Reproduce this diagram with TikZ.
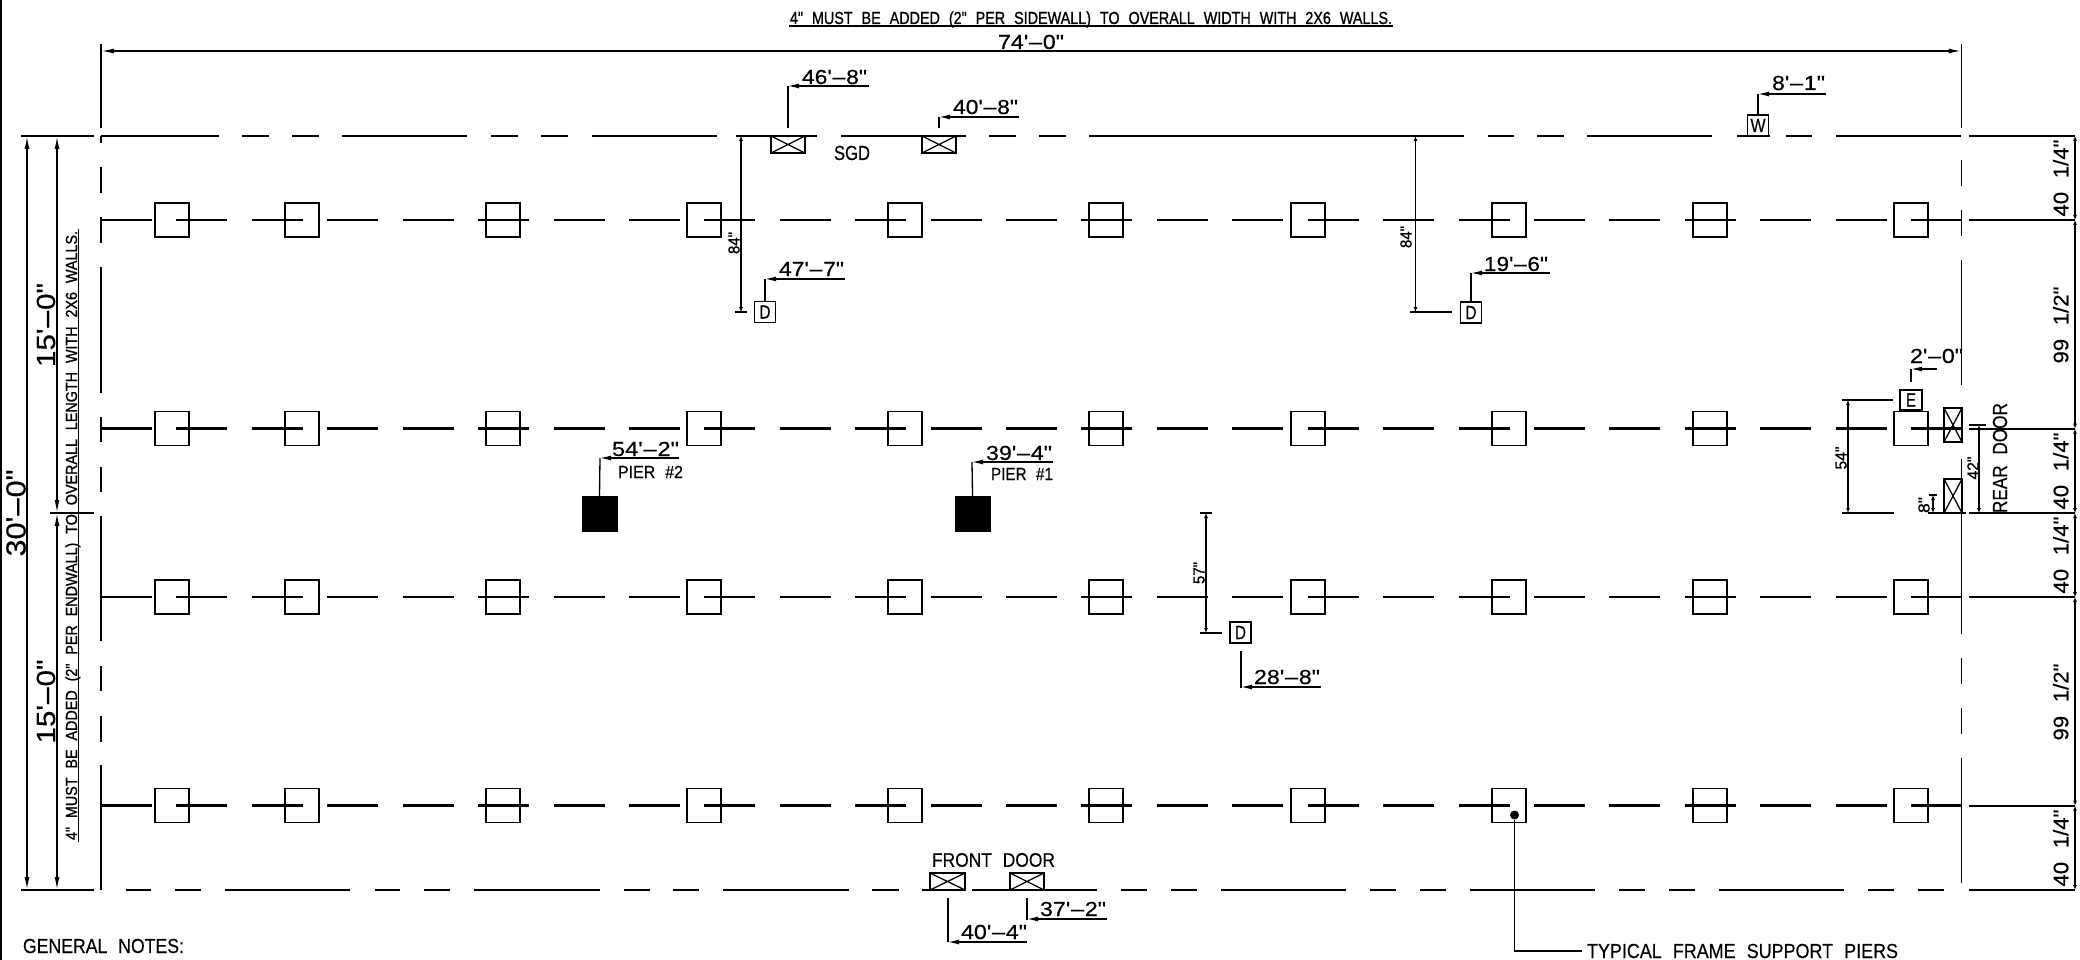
\documentclass[tikz,border=0pt]{standalone}
\usepackage{graphicx}
\usepackage{fontspec}
\usetikzlibrary{arrows.meta}
\newfontfamily\cad[FakeBold=0.35]{Liberation Sans}
\newfontfamily\cadb[FakeBold=1.1]{Liberation Sans}
% long drafting dash, narrow quotes kept as typed
\newcommand\dd{\kern-.07em\scalebox{2.3}[1]{-}\kern-.07em}
% fit text to a width and a capital height, both in px (pt)
\newcommand\fit[3]{\resizebox{#1pt}{#2pt}{\cad\spaceskip=.62em\relax\smash{#3}\vphantom{H}}}
\newcommand\fitb[3]{\resizebox{#1pt}{#2pt}{\cadb\spaceskip=.62em\relax\smash{#3}\vphantom{H}}}
\tikzset{
  thinline/.style={line width=1.3pt,black},
  wall/.style={line width=1.6pt,black},
  rowline/.style={line width=2.8pt,black,dash pattern=on 51pt off 24.42pt},
  pier/.style={draw,line width=1.5pt,minimum width=34pt,minimum height=34pt,inner sep=0pt,outer sep=0pt},
  blackpier/.style={fill=black,draw=black,minimum width=35pt,minimum height=35pt,inner sep=0pt,outer sep=0pt},
  dbox/.style={draw,line width=1.5pt,minimum width=21pt,minimum height=21pt,inner sep=0pt,outer sep=0pt},
  lbl/.style={inner sep=0pt,outer sep=0pt},
  dim/.style={line width=1.5pt,-{Latex[length=13pt,width=5pt]}},
  ddim/.style={line width=1.5pt,{Latex[length=13pt,width=5pt]}-{Latex[length=13pt,width=5pt]}},
  tick/.style={line width=1.3pt,{Latex[length=5pt,width=4pt]}-{Latex[length=5pt,width=4pt]}},
  lead/.style={line width=1.3pt,-{Latex[length=11pt,width=5pt]}}
}
\begin{document}
\begin{tikzpicture}[x=1pt,y=-1pt]
\useasboundingbox (0,0) rectangle (2080,960);
\fill[white] (0,0) rectangle (2080,960);
% sheet border
\draw[line width=2pt] (1,0) -- (1,960);
% rows of frame and piers
\foreach \r/\y in {1/220,2/428.7,3/597,4/805.7}{
  \foreach \c/\x in {1/172,2/302,3/503,4/704,5/905,6/1106,7/1308,8/1509,9/1710,10/1911}{
    \node[pier] (p\r-\c) at (\x,\y) {};
  }
  \draw[rowline] (101,\y) -- (1961.2,\y);
  \draw[wall] (1968.5,\y) -- (2075,\y);
}
% top wall
\foreach \a/\b in {21/94,101/219,242/269,292/319,342/467,491/518,541/568,591.5/717,736/817,841/966,989/1016,1039/1066,1089/1464,1488/1514,1537/1564,1587/1712,1737/1770,1786/1812,1836/1961,1968.5/2075}{
  \draw[wall] (\a,136) -- (\b,136);
}
% bottom wall
\foreach \a/\b in {21/94,126/151,175/201,225/350,375/400,424/450,474/600,624/650,673/699,723/849,872/899,922/948,972/1097,1121/1147,1171/1197,1221/1346,1370/1396,1420/1446,1470/1595,1619/1645,1669/1695,1719/1844,1868/1894,1918/1944,1968.5/2075}{
  \draw[wall] (\a,890) -- (\b,890);
}
% mid line stubs
\draw[wall] (50,513) -- (94,513);
\draw[wall] (1968.5,513) -- (2075,513);
% left wall
\foreach \a/\b in {44/128,136/143,167/193,217/243,267/393,417/442,467/492,516/641,666/691,716/742,765/890}{
  \draw[wall] (101,\a) -- (101,\b);
}
% right wall
\foreach \a/\b in {44/128,160/186,210/236,260/385,408/442,459/634,658/684,708/734,758/883}{
  \draw[wall] (1961.5,\a) -- (1961.5,\b);
}
% overall dimensions
\coordinate (tl) at (101,51); \coordinate (tr) at (1961.5,51);
\draw[ddim] (tl) -- (tr);
\node[lbl] (w74) at (1031,42) {\fit{66}{14}{74'\dd 0"}};
\node[lbl] (note1) at (1091,18) {\fitb{602}{12}{4" MUST BE ADDED (2" PER SIDEWALL) TO OVERALL WIDTH WITH 2X6 WALLS.}};
\draw[thinline] (789,26) -- (1393,26);
\coordinate (a1) at (27,136); \coordinate (a2) at (27,890);
\draw[ddim] (a1) -- (a2);
\coordinate (b1) at (57,136); \coordinate (b2) at (57,513); \coordinate (b3) at (57,890);
\draw[ddim] (b1) -- (b2); \draw[ddim] (b2) -- (b3);
\node[lbl,rotate=90] (h30) at (16,513) {\fit{87}{19}{30'\dd 0"}};
\node[lbl,rotate=90] (h15a) at (46,325) {\fit{84}{18}{15'\dd 0"}};
\node[lbl,rotate=90] (h15b) at (46,701.5) {\fit{84}{18}{15'\dd 0"}};
\node[lbl,rotate=90] (note2) at (71.5,535.5) {\fitb{609}{11}{4" MUST BE ADDED (2" PER ENDWALL) TO OVERALL LENGTH WITH 2X6 WALLS.}};
\draw[thinline] (78.5,229) -- (78.5,842);
% right-hand dimensions
\coordinate (r0) at (2075,136); \coordinate (r1) at (2075,220); \coordinate (r2) at (2075,428.7);
\coordinate (r3) at (2075,513); \coordinate (r4) at (2075,597); \coordinate (r5) at (2075,805.7); \coordinate (r6) at (2075,890);
\draw[tick] (r0) -- (r1); \draw[tick] (r1) -- (r2); \draw[tick] (r2) -- (r3);
\draw[tick] (r3) -- (r4); \draw[tick] (r4) -- (r5); \draw[tick] (r5) -- (r6);
\node[lbl,rotate=90] (rda) at (2061,178) {\fit{77}{14.5}{40 1/4"}};
\node[lbl,rotate=90] (rdb) at (2061,325) {\fit{77}{14.5}{99 1/2"}};
\node[lbl,rotate=90] (rdc) at (2061,471) {\fit{77}{14.5}{40 1/4"}};
\node[lbl,rotate=90] (rdd) at (2061,555) {\fit{77}{14.5}{40 1/4"}};
\node[lbl,rotate=90] (rde) at (2061,702) {\fit{77}{14.5}{99 1/2"}};
\node[lbl,rotate=90] (rdf) at (2061,848) {\fit{77}{14.5}{40 1/4"}};
% side door, top wall
\node[dbox,minimum width=34pt,minimum height=17pt] (sg1) at (788,144.5) {};
\draw[thinline] (sg1.north west) -- (sg1.south east) (sg1.north east) -- (sg1.south west);
\node[dbox,minimum width=34pt,minimum height=17pt] (sg2) at (939,144.5) {};
\draw[thinline] (sg2.north west) -- (sg2.south east) (sg2.north east) -- (sg2.south west);
\node[lbl] (sgd) at (852,153) {\fit{36}{14}{SGD}};
\coordinate (d1a) at (788,128); \coordinate (d1b) at (788,86); \coordinate (d1c) at (869,86);
\draw[thinline] (d1a) -- (d1b); \draw[lead] (d1c) -- (d1b);
\node[lbl] (t468) at (834.5,77) {\fit{65}{14}{46'\dd 8"}};
\coordinate (d2a) at (939,128); \coordinate (d2b) at (939,117); \coordinate (d2c) at (1019,117);
\draw[thinline] (d2a) -- (d2b); \draw[lead] (d2c) -- (d2b);
\node[lbl] (t408) at (985.5,107) {\fit{65}{14}{40'\dd 8"}};
% D boxes
\node[dbox] (D1) at (765,312) {\fit{11}{13}{D}};
\node[dbox] (D2) at (1471,312.5) {\fit{11}{13}{D}};
\node[dbox] (D3) at (1240.5,632.5) {\fit{11}{13}{D}};
\coordinate (e1a) at (765,279); \coordinate (e1b) at (845,279);
\draw[thinline] (D1.north) -- (e1a); \draw[lead] (e1b) -- (e1a);
\node[lbl] (t477) at (811.5,269) {\fit{65}{14}{47'\dd 7"}};
\coordinate (e2a) at (1471,273); \coordinate (e2b) at (1550,273);
\draw[thinline] (D2.north) -- (e2a); \draw[lead] (e2b) -- (e2a);
\node[lbl] (t196) at (1516,264) {\fit{64}{14}{19'\dd 6"}};
\coordinate (e3a) at (1241,651); \coordinate (e3b) at (1241,688); \coordinate (e3c) at (1321,687);
\draw[thinline] (e3a) -- (e3b); \draw[lead] (e3c) -- (1241,687);
\node[lbl] (t288) at (1287,677) {\fit{66}{14}{28'\dd 8"}};
% 84 inch, 57 inch
\coordinate (f1a) at (741,136); \coordinate (f1b) at (741,312);
\draw[tick] (f1a) -- (f1b); \draw[thinline] (735,312) -- (747,312);
\node[lbl,rotate=90] (t84a) at (734,243) {\fitb{22}{11}{84"}};
\coordinate (f2a) at (1415.5,136); \coordinate (f2b) at (1415.5,312);
\draw[tick] (f2a) -- (f2b); \draw[thinline] (1410,312) -- (1452,312);
\node[lbl,rotate=90] (t84b) at (1406,237) {\fitb{22}{11}{84"}};
\coordinate (f3a) at (1206,513); \coordinate (f3b) at (1206,633);
\draw[tick] (f3a) -- (f3b); \draw[thinline] (1200,513) -- (1212,513) (1200,633) -- (1222,633);
\node[lbl,rotate=90] (t57) at (1199,573) {\fitb{22}{11}{57"}};
% black piers
\node[blackpier] (P1) at (972.5,513.5) {};
\node[blackpier] (P2) at (599.5,513.5) {};
\coordinate (g1a) at (972,462); \coordinate (g1b) at (1053,462);
\draw[thinline] (P1.north) -- (g1a); \draw[lead] (g1b) -- (g1a);
\node[lbl] (t394) at (1019,453) {\fit{66}{14}{39'\dd 4"}};
\node[lbl] (tp1) at (1022,474) {\fit{62}{12}{PIER \#1}};
\coordinate (g2a) at (600,458); \coordinate (g2b) at (679,458);
\draw[thinline] (P2.north) -- (g2a); \draw[lead] (g2b) -- (g2a);
\node[lbl] (t542) at (645.5,449) {\fit{67}{14}{54'\dd 2"}};
\node[lbl] (tp2) at (650.5,472) {\fit{65}{12}{PIER \#2}};
% W box
\node[dbox] (W) at (1758,125.5) {\fit{15}{13}{W}};
\coordinate (hh) at (1758,94); \coordinate (hi) at (1826,94);
\draw[thinline] (W.north) -- (hh); \draw[lead] (hi) -- (hh);
\node[lbl] (t81) at (1798.5,83) {\fit{53}{14}{8'\dd 1"}};
% front door
\node[dbox,minimum width=35pt,minimum height=17pt] (fd1) at (947.5,881.5) {};
\draw[thinline] (fd1.north west) -- (fd1.south east) (fd1.north east) -- (fd1.south west);
\node[dbox,minimum width=34pt,minimum height=17pt] (fd2) at (1027,881.5) {};
\draw[thinline] (fd2.north west) -- (fd2.south east) (fd2.north east) -- (fd2.south west);
\node[lbl] (tfd) at (993.5,860) {\fit{123}{13.5}{FRONT DOOR}};
\coordinate (i1a) at (948,898); \coordinate (i1b) at (948,942); \coordinate (i1c) at (1027,942);
\draw[thinline] (i1a) -- (i1b); \draw[lead] (i1c) -- (i1b);
\node[lbl] (t404) at (994,932) {\fit{66}{14}{40'\dd 4"}};
\coordinate (i2a) at (1027,898); \coordinate (i2b) at (1027,920); \coordinate (i2c) at (1107,919);
\draw[thinline] (i2a) -- (i2b); \draw[lead] (i2c) -- (1027,919);
\node[lbl] (t372) at (1073,909) {\fit{66}{14}{37'\dd 2"}};
% rear end: electrical box and rear door
\node[dbox,minimum width=22pt,minimum height=20pt] (E) at (1911,400) {\fit{10}{13}{E}};
\coordinate (j1) at (1911,382); \coordinate (j2) at (1911,369); \coordinate (j3) at (1937,369);
\draw[thinline] (j1) -- (j2); \draw[lead] (j3) -- (j2);
\node[lbl] (t20) at (1936.5,356) {\fit{53}{14}{2'\dd 0"}};
\coordinate (k1) at (1848,400); \coordinate (k2) at (1848,513);
\draw[tick] (k1) -- (k2); \draw[thinline] (1842,400) -- (1893,400) (1842,513) -- (1894,513);
\node[lbl,rotate=90] (t54) at (1841,458) {\fitb{23}{11}{54"}};
\node[dbox,minimum width=18pt,minimum height=34pt] (rd1) at (1953,425) {};
\draw[thinline] (rd1.north west) -- (rd1.south east) (rd1.north east) -- (rd1.south west);
\node[dbox,minimum width=18pt,minimum height=34pt] (rd2) at (1953,496) {};
\draw[thinline] (rd2.north west) -- (rd2.south east) (rd2.north east) -- (rd2.south west);
\coordinate (m1) at (1979,425); \coordinate (m2) at (1979,513);
\draw[tick] (m1) -- (m2); \draw[thinline] (1969,425) -- (1986,425);
\node[lbl,rotate=90] (t42) at (1973,468) {\fitb{23}{11}{42"}};
\coordinate (n1) at (1933,495); \coordinate (n2) at (1933,513);
\draw[tick] (n1) -- (n2); \draw[thinline] (1929,495) -- (1937,495) (1928,513) -- (1966,513);
\node[lbl,rotate=90] (t8) at (1924,505) {\fitb{16}{11}{8"}};
\node[lbl,rotate=90] (trd) at (2000,458) {\fit{110}{14}{REAR DOOR}};
% leader to typical pier
\node[circle,fill=black,minimum size=9pt,inner sep=0pt] (dot) at (1514.5,815) {};
\node[lbl,anchor=west] (tfs) at (1587,951) {\fit{311}{14}{TYPICAL FRAME SUPPORT PIERS}};
\coordinate (lc) at (1514.5,951); \coordinate (le) at (1582,951);
\draw[thinline] (dot) -- (lc) -- (le);
\node[lbl,anchor=west] (gn) at (23,946) {\fit{161}{14}{GENERAL NOTES:}};
\end{tikzpicture}
\end{document}
